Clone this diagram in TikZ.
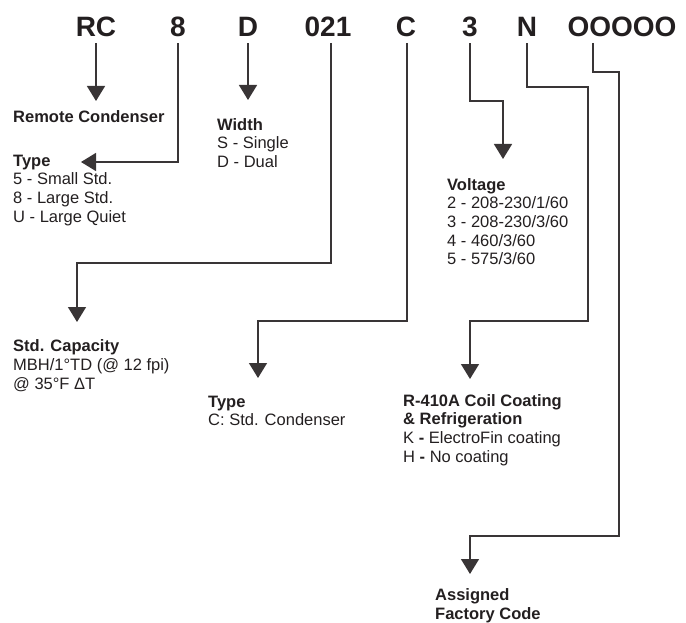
\documentclass[tikz,border=0pt]{standalone}
\usepackage{fontspec}
\setmainfont{Liberation Sans}
\usetikzlibrary{arrows.meta}
\definecolor{ink}{HTML}{231F20}
\begin{document}
\begin{tikzpicture}[x=1pt,y=-1pt,
  hdr/.style={anchor=base,inner xsep=0pt,inner ysep=6pt,text depth=0pt,text=ink,font=\fontsize{28}{30}\selectfont\bfseries},
  lbl/.style={anchor=base west,inner sep=0pt,align=left,text=ink,font=\fontsize{16.5}{18.7}\selectfont},
  conn/.style={draw=ink!90,line width=1.4pt,-{Triangle[width=18pt,length=15pt]}}]
\useasboundingbox (0,0) rectangle (686,623);
% header
\node[hdr] (rc) at (96,37) {RC};
\node[hdr] (n8) at (178,37) {8};
\node[hdr] (d) at (248,37) {D};
\node[hdr] (cap) at (328,37) {021};
\node[hdr] (c) at (406,37) {C};
\node[hdr] (v) at (470,37) {3};
\node[hdr] (n) at (527,37) {N};
\node[hdr] (fc) at (622,37) {OOOOO};
% labels (anchor = baseline of the last line)
\node[lbl] (lrc) at (13,123) {\bfseries Remote Condenser};
\node[lbl] (ltype) at (13,222.1) {\bfseries Type\\5 - Small Std.\\8 - Large Std.\\U - Large Quiet};
\node[lbl] (lw) at (217,167.4) {\bfseries Width\\S - Single\\D - Dual};
\node[lbl] (lv) at (447,265) {\bfseries Voltage\\2 - 208-230/1/60\\3 - 208-230/3/60\\4 - 460/3/60\\5 - 575/3/60};
\node[lbl] (lcap) at (13,389) {\bfseries Std. Capacity\\MBH/1°TD (@ 12 fpi)\\@ 35°F ΔT};
\node[lbl] (lc) at (208,425.7) {\bfseries Type\\C: Std. Condenser};
\node[lbl] (ln) at (403,462.1) {\bfseries R-410A Coil Coating\\\bfseries \& Refrigeration\\K \textbf{-} ElectroFin coating\\H \textbf{-} No coating};
\node[lbl] (lfc) at (435,619.5) {\bfseries Assigned\\\bfseries Factory Code};
% coordinates
\coordinate (tRC) at (96,101);
\coordinate (tType) at (81,162);
\coordinate (tW) at (248,100);
\coordinate (s021) at (331,43);
\coordinate (b021) at (331,263);
\coordinate (tCap) at (77,322);
\coordinate (sC) at (407,43);
\coordinate (bC) at (407,321);
\coordinate (tC) at (258,378);
\coordinate (b3) at (470,101);
\coordinate (tV) at (503,159);
\coordinate (bN1) at (527,87);
\coordinate (bN2) at (588,321);
\coordinate (tN) at (470,379);
\coordinate (sF) at (593,43);
\coordinate (bF1) at (593,72);
\coordinate (bF2) at (619,536);
\coordinate (tF) at (470,574);
% connectors
\draw[conn] (rc.south) -- (tRC);
\draw[conn] (n8.south) |- (tType);
\draw[conn] (d.south) -- (tW);
\draw[conn] (s021) -- (b021) -| (tCap);
\draw[conn] (sC) -- (bC) -| (tC);
\draw[conn] (v.south) -- (b3) -| (tV);
\draw[conn] (n.south) -- (bN1) -| (bN2) -| (tN);
\draw[conn] (sF) -- (bF1) -| (bF2) -| (tF);
\end{tikzpicture}
\end{document}
